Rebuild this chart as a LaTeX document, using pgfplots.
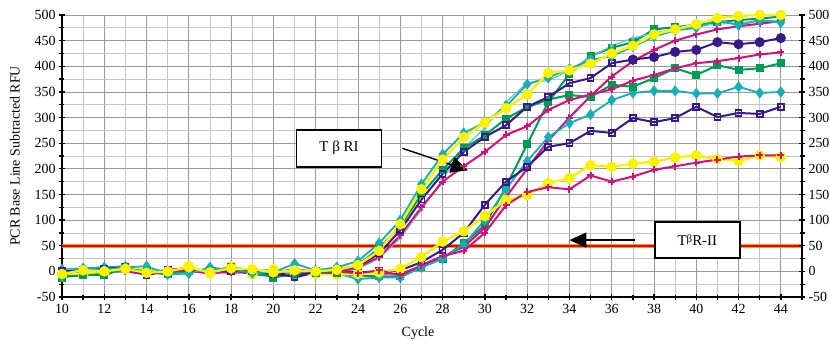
\documentclass[border=0pt]{standalone}
\usepackage{fontspec}
\setmainfont{Liberation Serif}
\usepackage{pgfplots}
\pgfplotsset{compat=1.18}
\usetikzlibrary{arrows.meta}
\definecolor{yelC}{RGB}{250,242,0}
\definecolor{cyaC}{RGB}{20,175,185}
\definecolor{greC}{RGB}{0,155,85}
\definecolor{navC}{RGB}{55,25,140}
\definecolor{magC}{RGB}{215,15,125}
\begin{document}
\begin{tikzpicture}[x=1bp,y=1bp]
\useasboundingbox (-62,-43) rectangle (768,297);
\pgfplotsset{every axis/.append style={
  scale only axis, width=740bp, height=282bp,
  xmin=10, xmax=45, ymin=-50, ymax=500,
  /pgf/number format/assume math mode=true,
  tick label style={font=\fontsize{14}{16}\selectfont},
  label style={font=\fontsize{14}{16}\selectfont},
}}
\begin{axis}[
  axis x line*=bottom, axis y line*=left,
  axis line style={line width=1.8bp, black},
  xtick distance=2, minor x tick num=1,
  ytick distance=50, minor y tick num=1,
  tick align=center,
  major tick length=6bp, minor tick length=5bp,
  every tick/.style={black, line width=1.3bp},
  grid=both,
  major grid style={gray!80, line width=0.8bp},
  minor grid style={gray!45, line width=0.7bp},
  xlabel={Cycle}, ylabel={PCR Base Line Subtracted RFU},
  xlabel style={xshift=-14bp, yshift=-6bp},
  ylabel style={yshift=8bp},
  xticklabel style={yshift=-1bp},
  clip=false,
]
% threshold
\addplot[orange!80!yellow, line width=4bp, forget plot] coordinates {(10,50) (45,50)};
\addplot[red!90!black, line width=2bp, forget plot] coordinates {(10,50) (45,50)};
% ---------- late group (TbR-II)
\addplot[greC, line width=2bp, mark=square*, mark size=3bp] coordinates {
(10,-12)(11,-5)(12,-8)(13,8)(14,2)(15,-6)(16,0)(17,-2)(18,4)(19,-5)(20,-10)(21,-4)(22,0)(23,-5)(24,-8)(25,-10)
(26,-10)(27,8)(28,25)(29,55)(30,90)(31,165)(32,248)(33,330)(34,385)(35,420)(36,436)(37,447)(38,472)(39,476)(40,481)(41,486)(42,490)(43,493)(44,497)};
\addplot[magC, line width=2bp, mark=+, mark size=3.5bp, mark options={line width=2bp}] coordinates {
(10,2)(11,4)(12,-2)(13,0)(14,-6)(15,2)(16,0)(17,-3)(18,2)(19,-4)(20,-2)(21,3)(22,0)(23,-3)(24,-2)(25,-4)
(26,-5)(27,10)(28,28)(29,48)(30,85)(31,145)(32,200)(33,255)(34,300)(35,342)(36,380)(37,410)(38,432)(39,450)(40,462)(41,472)(42,478)(43,483)(44,488)};
\addplot[cyaC, line width=1.8bp, mark=diamond*, mark size=4.2bp] coordinates {
(10,4)(11,6)(12,8)(13,10)(14,-2)(15,-6)(16,-4)(17,8)(18,2)(19,-4)(20,-6)(21,-10)(22,0)(23,-4)(24,-15)(25,-12)
(26,-12)(27,8)(28,25)(29,52)(30,100)(31,160)(32,215)(33,262)(34,289)(35,306)(36,334)(37,348)(38,352)(39,352)(40,347)(41,347)(42,360)(43,348)(44,350)};
\addplot[navC, line width=2bp, mark=square, mark size=3bp, mark options={line width=1.8bp}] coordinates {
(10,-2)(11,0)(12,4)(13,6)(14,-6)(15,0)(16,3)(17,-3)(18,0)(19,-4)(20,2)(21,-12)(22,-2)(23,3)(24,-2)(25,0)
(26,2)(27,18)(28,42)(29,75)(30,130)(31,175)(32,204)(33,243)(34,250)(35,274)(36,270)(37,299)(38,291)(39,299)(40,321)(41,301)(42,309)(43,307)(44,321)};
\addplot[yelC, line width=2.4bp, mark=*, mark size=4bp] coordinates {
(10,-8)(11,-6)(12,-2)(13,6)(14,4)(15,-2)(16,10)(17,-4)(18,10)(19,-6)(20,4)(21,-2)(22,-5)(23,-6)(24,-5)(25,-2)
(26,5)(27,28)(28,58)(29,78)(30,108)(31,139)(32,149)(33,172)(34,182)(35,207)(36,204)(37,210)(38,214)(39,222)(40,226)(41,219)(42,215)(43,226)(44,223)};
\addplot[magC, line width=2bp, mark=+, mark size=3.5bp, mark options={line width=2bp}] coordinates {
(10,0)(11,2)(12,0)(13,4)(14,-2)(15,-4)(16,5)(17,0)(18,-3)(19,0)(20,-4)(21,5)(22,-2)(23,0)(24,-4)(25,2)
(26,-8)(27,12)(28,30)(29,40)(30,75)(31,129)(32,155)(33,164)(34,160)(35,187)(36,175)(37,185)(38,198)(39,205)(40,212)(41,218)(42,224)(43,226)(44,226)};
% ---------- early group (TbRI)
\addplot[cyaC!70!white, line width=1.2bp, mark=*, mark size=1.5bp] coordinates {
(10,5)(11,3)(12,0)(13,-2)(14,4)(15,2)(16,0)(17,3)(18,-2)(19,0)(20,5)(21,-3)(22,2)(23,0)
(24,5)(25,25)(26,65)(27,120)(28,180)(29,240)(30,280)(31,330)(32,368)(33,372)(34,392)(35,418)(36,440)(37,455)(38,465)(39,472)(40,478)(41,482)(42,485)(43,488)(44,490)};
\addplot[greC, line width=2bp, mark=square*, mark size=3bp] coordinates {
(10,-10)(11,-8)(12,-5)(13,5)(14,0)(15,-4)(16,2)(17,0)(18,8)(19,2)(20,-12)(21,-5)(22,-3)(23,-3)
(24,12)(25,45)(26,88)(27,150)(28,198)(29,240)(30,265)(31,298)(32,320)(33,335)(34,344)(35,340)(36,364)(37,360)(38,377)(39,396)(40,383)(41,402)(42,393)(43,396)(44,406)};
\addplot[magC, line width=2bp, mark=+, mark size=3.5bp, mark options={line width=2bp}] coordinates {
(10,-3)(11,0)(12,2)(13,3)(14,-5)(15,0)(16,2)(17,-4)(18,0)(19,-2)(20,0)(21,0)(22,0)(23,-2)
(24,8)(25,28)(26,70)(27,125)(28,175)(29,205)(30,233)(31,266)(32,283)(33,315)(34,334)(35,345)(36,355)(37,372)(38,383)(39,396)(40,406)(41,410)(42,416)(43,423)(44,427)};
\addplot[navC, line width=2bp, mark=square, mark size=3bp, mark options={line width=1.8bp}] coordinates {
(10,0)(11,2)(12,5)(13,8)(14,-8)(15,3)(16,6)(17,0)(18,2)(19,0)(20,-5)(21,-10)(22,0)(23,5)
(24,10)(25,35)(26,80)(27,140)(28,190)(29,233)(30,262)(31,285)(32,321)(33,340)(34,367)(35,377)(36,406)(37,413)};
\addplot[navC, line width=2bp, mark=*, mark size=4bp] coordinates {
(37,413)(38,418)(39,428)(40,432)(41,447)(42,443)(43,447)(44,455)};
\addplot[cyaC, line width=1.8bp, mark=diamond*, mark size=4.2bp] coordinates {
(10,-8)(11,5)(12,3)(13,8)(14,10)(15,-5)(16,-3)(17,5)(18,4)(19,-3)(20,-2)(21,15)(22,2)(23,8)
(24,20)(25,55)(26,100)(27,170)(28,228)(29,270)(30,290)(31,322)(32,365)(33,378)(34,395)(35,412)(36,420)(37,438)(38,458)(39,470)(40,475)(41,490)(42,480)(43,490)(44,485)};
\addplot[yelC, line width=2.4bp, mark=*, mark size=4bp] coordinates {
(10,-5)(11,2)(12,0)(13,5)(14,-3)(15,0)(16,8)(17,-2)(18,6)(19,4)(20,-2)(21,2)(22,0)(23,3)
(24,12)(25,40)(26,92)(27,160)(28,218)(29,262)(30,290)(31,318)(32,345)(33,387)(34,392)(35,405)(36,425)(37,440)(38,462)(39,472)(40,482)(41,494)(42,498)(43,500)(44,500)};
% annotations
\draw[black, line width=1.4bp, -{Triangle[length=17bp,width=16bp]}] (axis cs:26.1,240) -- (axis cs:29.2,197);
\draw[black, line width=1.4bp, -{Triangle[length=17bp,width=15bp]}] (axis cs:37.1,61) -- (axis cs:34.0,61);
\node[draw=black, line width=1.6bp, fill=white, minimum width=85bp, minimum height=37bp, font=\fontsize{15}{17}\selectfont] at (axis cs:23.1,240) {T β RI};
\node[draw=black, line width=1.6bp, fill=white, minimum width=85bp, minimum height=36bp, font=\fontsize{15}{17}\selectfont] at (axis cs:40.05,61) {T\raisebox{3bp}{\fontsize{11}{13}\selectfont β}R-II};
\end{axis}
\begin{axis}[
  axis x line=none, axis y line*=right,
  axis line style={line width=1.8bp, black},
  ytick distance=50, minor y tick num=1,
  tick align=center,
  major tick length=6bp, minor tick length=5bp,
  every tick/.style={black, line width=1.3bp},
]
\addplot[draw=none] coordinates {(10,0)};
\end{axis}
\end{tikzpicture}
\end{document}
